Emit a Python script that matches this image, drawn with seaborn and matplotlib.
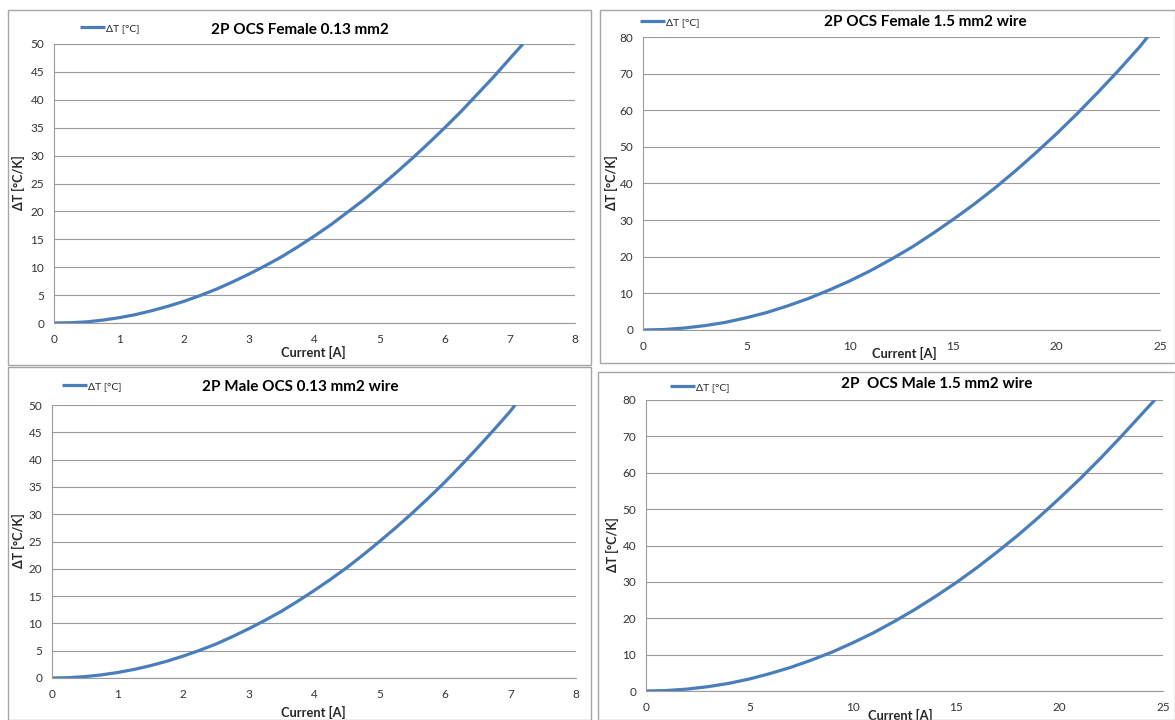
import matplotlib
matplotlib.use("Agg")
import matplotlib.pyplot as plt
from matplotlib.patches import Rectangle
import seaborn as sns
import pandas as pd

# Temperature rise vs. current for the 2P OCS contacts
current_f013 = [0, 0.25, 0.5, 0.75, 1, 1.25, 1.5, 1.75, 2, 2.25, 2.5, 2.75, 3, 3.25, 3.5,
                3.75, 4, 4.25, 4.5, 4.75, 5, 5.25, 5.5, 5.75, 6, 6.25, 6.5, 6.75, 7, 7.2]
dT_f013 = [0, 0.05, 0.2, 0.52, 0.95, 1.5, 2.2, 3.0, 3.9, 4.95, 6.1, 7.4, 8.8, 10.3, 11.9,
           13.7, 15.6, 17.6, 19.8, 22.0, 24.4, 26.9, 29.5, 32.2, 35.0, 37.9, 41.0, 44.1, 47.4, 50.0]

current_f15 = [0, 1, 2, 3, 4, 5, 6, 7, 8, 9, 10, 11, 12, 13, 14, 15, 16, 17, 18, 19,
               20, 21, 22, 23, 24, 24.4]
dT_f15 = [0, 0.13, 0.54, 1.2, 2.1, 3.35, 4.8, 6.6, 8.6, 10.9, 13.4, 16.2, 19.3, 22.6,
          26.3, 30.2, 34.3, 38.7, 43.4, 48.4, 53.6, 59.1, 64.9, 70.9, 77.2, 80.0]

current_m013 = [0, 0.25, 0.5, 0.75, 1, 1.25, 1.5, 1.75, 2, 2.25, 2.5, 2.75, 3, 3.25, 3.5,
                3.75, 4, 4.25, 4.5, 4.75, 5, 5.25, 5.5, 5.75, 6, 6.25, 6.5, 6.75, 7, 7.07]
dT_m013 = [0, 0.06, 0.25, 0.56, 1.0, 1.56, 2.25, 3.06, 4.0, 5.05, 6.2, 7.55, 9.0, 10.55, 12.2,
           14.05, 16.0, 18.05, 20.2, 22.55, 25.0, 27.55, 30.2, 33.0, 35.9, 39.0, 42.2, 45.5, 48.9, 50.0]

current_m15 = [0, 1, 2, 3, 4, 5, 6, 7, 8, 9, 10, 11, 12, 13, 14, 15, 16, 17, 18, 19,
               20, 21, 22, 23, 24, 24.6]
dT_m15 = [0, 0.13, 0.53, 1.19, 2.1, 3.3, 4.8, 6.5, 8.5, 10.7, 13.25, 16.0, 19.1, 22.4,
          26.0, 29.8, 33.9, 38.3, 42.9, 47.8, 53.0, 58.4, 64.1, 70.1, 76.3, 80.0]

titles = ["2P OCS Female 0.13 mm2", "2P OCS Female 1.5 mm2 wire",
          "2P Male OCS 0.13 mm2 wire", "2P  OCS Male 1.5 mm2 wire"]
series_label = "ΔT [°C]"
x_label = "Current [A]"
y_label = "ΔT [°C/K]"

W, H = 1175, 720
LINE_COLOR = "#4a7ebb"
GRID_COLOR = "#9a9a9a"
FRAME_COLOR = "#a6a6a6"
TEXT_COLOR = "#262626"
TICK_COLOR = "#333333"

sns.set_theme(style="white")
plt.rcParams['font.family'] = ['Lato', 'DejaVu Sans']

fig = plt.figure(figsize=(W / 100, H / 100), dpi=100)
fig.patch.set_facecolor("white")


def fx(px):
    return px / W


def fy(py):
    return 1 - py / H


layout = [
    dict(frame=(8, 10, 591, 365), plot=(54, 44, 575, 323), xmax=8, xstep=1, ymax=50, ystep=5,
         title_xy=(300, 30), legend_xy=(80, 28), ylabel_xy=(18, 183), xlabel_xy=(313, 352)),
    dict(frame=(600, 10, 1175, 363), plot=(643, 37, 1160, 330), xmax=25, xstep=5, ymax=80, ystep=10,
         title_xy=(925, 22), legend_xy=(640, 22), ylabel_xy=(611, 183), xlabel_xy=(904, 353)),
    dict(frame=(8, 367, 591, 720), plot=(52, 405, 576, 678), xmax=8, xstep=1, ymax=50, ystep=5,
         title_xy=(300, 387), legend_xy=(62, 386), ylabel_xy=(18, 541), xlabel_xy=(313, 712)),
    dict(frame=(598, 372, 1175, 720), plot=(646, 400, 1163, 691), xmax=25, xstep=5, ymax=80, ystep=10,
         title_xy=(937, 384), legend_xy=(670, 387), ylabel_xy=(612, 545), xlabel_xy=(900, 715)),
]

series = [(current_f013, dT_f013), (current_f15, dT_f15),
          (current_m013, dT_m013), (current_m15, dT_m15)]

for title, (cur, dT), lay in zip(titles, series, layout):
    l, t, r, b = lay["frame"]
    fig.patches.append(Rectangle((fx(l), fy(b)), fx(r) - fx(l), fy(t) - fy(b),
                                 transform=fig.transFigure, fill=False,
                                 edgecolor=FRAME_COLOR, linewidth=1.0))

    pl, pt, pr, pb = lay["plot"]
    ax = fig.add_axes([fx(pl), fy(pb), fx(pr) - fx(pl), fy(pt) - fy(pb)])
    ax.set_facecolor("none")

    df = pd.DataFrame({"Current": cur, "dT": dT})
    sns.lineplot(data=df, x="Current", y="dT", ax=ax, color=LINE_COLOR,
                 linewidth=2.3, label=series_label, sort=False,
                 solid_joinstyle="round", solid_capstyle="butt")

    ax.set_xlim(0, lay["xmax"])
    ax.set_ylim(0, lay["ymax"])
    ax.set_xticks(range(0, lay["xmax"] + 1, lay["xstep"]))
    ax.set_yticks(range(0, lay["ymax"] + 1, lay["ystep"]))
    ax.grid(axis="y", color=GRID_COLOR, linewidth=0.8)
    ax.grid(axis="x", visible=False)
    ax.set_axisbelow(True)
    for side in ("top", "right"):
        ax.spines[side].set_visible(False)
    for side in ("left", "bottom"):
        ax.spines[side].set_color(GRID_COLOR)
        ax.spines[side].set_linewidth(0.8)
    ax.tick_params(axis="both", which="major", direction="out", length=4,
                   width=0.8, color=GRID_COLOR, labelsize=8.5, labelcolor=TICK_COLOR)
    ax.tick_params(axis="x", pad=4)
    ax.tick_params(axis="y", pad=3)

    ax.set_xlabel(x_label, fontsize=9.3, fontweight="bold", color=TEXT_COLOR)
    ax.set_ylabel(y_label, fontsize=9, fontweight="bold", color=TEXT_COLOR)
    ax.xaxis.label.set_va("center")
    ax.yaxis.label.set_va("center")
    ax.xaxis.set_label_coords(fx(lay["xlabel_xy"][0]), fy(lay["xlabel_xy"][1]),
                              transform=fig.transFigure)
    ax.yaxis.set_label_coords(fx(lay["ylabel_xy"][0]), fy(lay["ylabel_xy"][1]),
                              transform=fig.transFigure)

    ax.legend(loc="center left", bbox_to_anchor=(fx(lay["legend_xy"][0]), fy(lay["legend_xy"][1])),
              bbox_transform=fig.transFigure, frameon=False, fontsize=7.5,
              handlelength=2.4, handletextpad=0.1, borderpad=0, borderaxespad=0,
              labelcolor=TEXT_COLOR)

    fig.text(fx(lay["title_xy"][0]), fy(lay["title_xy"][1]), title, ha="center", va="center",
             fontsize=11, fontweight="bold", color="black")

fig.savefig("out.png", dpi=100, facecolor="white")
